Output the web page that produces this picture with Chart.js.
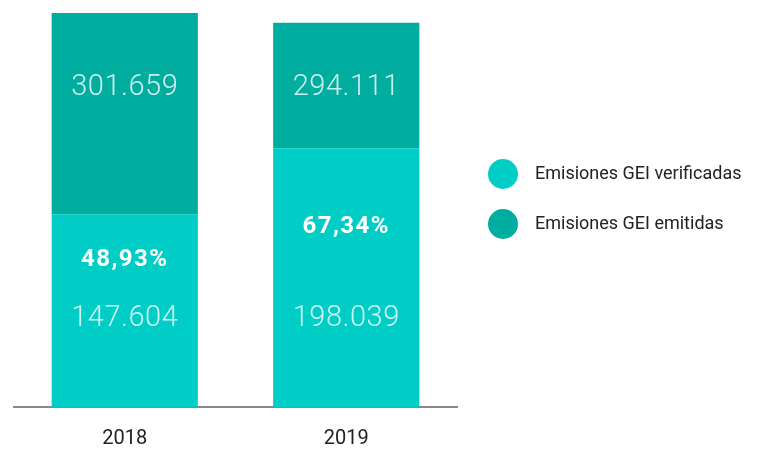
<!DOCTYPE html>
<html lang="es">
<head>
<meta charset="UTF-8">
<title>Emisiones GEI</title>
<script src="https://cdn.jsdelivr.net/npm/chart.js"></script>
<style>
  html, body { margin: 0; padding: 0; background: #fff; }
  #wrap { width: 759px; height: 452px; position: relative; }
</style>
</head>
<body>
<div id="wrap"><canvas id="chart"></canvas></div>
<script>
// datos
const years = ['2018', '2019'];
const verificadas = [147604, 198039];
const emitidas = [301659, 294111];
const porcentajes = ['48,93%', '67,34%'];
const seriesNames = ['Emisiones GEI verificadas', 'Emisiones GEI emitidas'];

const colVerif = '#00CEC6';
const colEmit = '#00AD9F';

// parte superior de la barra = emitidas - verificadas
const resto = emitidas.map((v, i) => v - verificadas[i]);

function fmt(n) {
  return String(n).replace(/\B(?=(\d{3})+(?!\d))/g, '.');
}

// etiquetas dentro de las barras
const barLabels = {
  id: 'barLabels',
  afterDatasetsDraw(chart) {
    const ctx = chart.ctx;
    const area = chart.chartArea;
    const bottomMeta = chart.getDatasetMeta(0);
    const base = area.bottom;
    ctx.save();
    ctx.textAlign = 'center';
    ctx.textBaseline = 'middle';
    bottomMeta.data.forEach((bar, i) => {
      const x = bar.x;
      const numY = base - 88;
      ctx.fillStyle = 'rgba(255,255,255,0.8)';
      ctx.font = '300 29px Roboto';
      ctx.letterSpacing = '0.5px';
      ctx.fillText(fmt(emitidas[i]), x, area.top + 75);
      ctx.fillText(fmt(verificadas[i]), x, numY);
      ctx.fillStyle = '#ffffff';
      ctx.font = 'bold 24px Roboto';
      ctx.letterSpacing = '1.5px';
      ctx.fillText(porcentajes[i], x, (bar.y + numY) / 2 - 7);
    });
    ctx.restore();
  }
};

// leyenda a la derecha
const sideLegend = {
  id: 'sideLegend',
  afterDraw(chart) {
    const ctx = chart.ctx;
    ctx.save();
    ctx.textBaseline = 'middle';
    ctx.textAlign = 'left';
    ctx.font = '18px Roboto';
    chart.data.datasets.forEach((ds, i) => {
      const y = 174 + i * 50;
      ctx.fillStyle = ds.backgroundColor;
      ctx.beginPath();
      ctx.arc(503, y, 15, 0, Math.PI * 2);
      ctx.fill();
      ctx.fillStyle = '#222';
      ctx.fillText(ds.label, 535, y);
    });
    ctx.restore();
  }
};

new Chart(document.getElementById('chart'), {
  type: 'bar',
  data: {
    labels: years,
    datasets: [
      { label: seriesNames[0], data: verificadas, backgroundColor: colVerif, stack: 's' },
      { label: seriesNames[1], data: resto, backgroundColor: colEmit, stack: 's' }
    ]
  },
  options: {
    responsive: true,
    maintainAspectRatio: false,
    animation: false,
    events: [],
    layout: { padding: { top: 13, left: 14, right: 302, bottom: -11 } },
    datasets: { bar: { barPercentage: 0.66, categoryPercentage: 1 } },
    plugins: { legend: { display: false }, tooltip: { enabled: false } },
    scales: {
      x: {
        stacked: true,
        grid: { display: false, tickLength: 8 },
        border: { color: '#888', width: 2 },
        ticks: { color: '#222', font: { family: 'Roboto', size: 20 }, padding: 12 }
      },
      y: {
        stacked: true,
        display: false,
        min: 0,
        max: emitidas[0]
      }
    }
  },
  plugins: [barLabels, sideLegend]
});
</script>
</body>
</html>
